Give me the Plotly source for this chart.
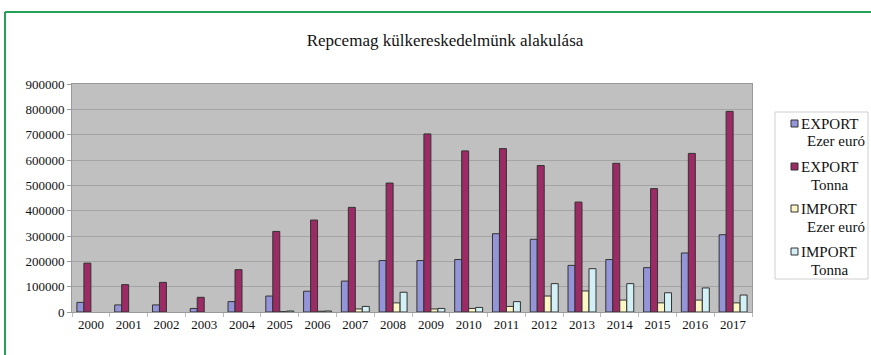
import plotly.graph_objects as go

years = [str(y) for y in range(2000, 2018)]
export_eur = [38000, 28000, 28000, 14000, 41000, 63000, 82000, 122000, 203000,
              203000, 207000, 309000, 287000, 184000, 207000, 175000, 233000, 305000]
export_t = [193000, 108000, 117000, 58000, 167000, 318000, 363000, 413000, 509000,
            703000, 636000, 645000, 578000, 434000, 587000, 487000, 626000, 792000]
import_eur = [None, None, None, None, None, 1500, 3000, 12000, 36000,
              12000, 14000, 22000, 63000, 83000, 47000, 36000, 47000, 36000]
import_t = [None, None, None, None, None, 4000, 4000, 22000, 78000,
            14000, 18000, 41000, 112000, 171000, 112000, 76000, 95000, 67000]

series_line1 = ["EXPORT", "EXPORT", "IMPORT", "IMPORT"]
series_line2 = ["Ezer euró", "Tonna", "Ezer euró", "Tonna"]
series_vals = [export_eur, export_t, import_eur, import_t]
colors = ["#9494d8", "#9c2a64", "#fcf6c4", "#d2f0f6"]

SERIF = "Liberation Serif, Times New Roman, serif"

fig = go.Figure()
for l1, l2, vals, c in zip(series_line1, series_line2, series_vals, colors):
    fig.add_trace(go.Bar(x=years, y=vals, name=f"{l1} {l2}",
                         marker=dict(color=c, line=dict(color="#333333", width=1))))

W, H = 871, 355
L, R, T, B = 72, 119, 84, 43
pw, ph = W - L - R, H - T - B

def px(x):
    return (x - L) / pw

def py(y):
    return (H - B - y) / ph

fig.update_layout(
    width=W, height=H,
    margin=dict(l=L, r=R, t=T, b=B),
    paper_bgcolor="white",
    plot_bgcolor="#c0c0c0",
    barmode="group",
    bargap=0.26,
    bargroupgap=0,
    font=dict(family=SERIF, size=13, color="#111"),
    title=dict(text="Repcemag külkereskedelmünk alakulása",
               x=px(445), xref="paper", xanchor="center",
               y=1 - 40 / H, yanchor="middle",
               font=dict(family=SERIF, size=17, color="#111")),
    showlegend=False,
)
fig.update_yaxes(range=[0, 900000], dtick=100000, tickformat="d",
                 showgrid=True, gridcolor="#a4a4a4", gridwidth=1,
                 ticks="outside", ticklen=4, tickcolor="#999",
                 showline=True, linecolor="#9a9a9a", mirror=True,
                 zeroline=False, fixedrange=True)
fig.update_xaxes(type="category", tickson="boundaries",
                 ticks="outside", ticklen=4, tickcolor="#bbb",
                 showline=True, linecolor="#9a9a9a", mirror=True,
                 showgrid=False)

green = "#23a257"
fig.add_shape(type="line", xref="paper", yref="paper",
              x0=px(5), x1=px(W + 10), y0=py(12), y1=py(12),
              line=dict(color=green, width=2))
fig.add_shape(type="line", xref="paper", yref="paper",
              x0=px(5), x1=px(5), y0=py(12), y1=py(H + 10),
              line=dict(color=green, width=2))

# custom legend (box, swatches, two-line labels)
fig.add_shape(type="rect", xref="paper", yref="paper",
              x0=px(775), x1=px(868), y0=py(112), y1=py(279),
              fillcolor="white", line=dict(color="#cfcfcf", width=1))
line1_y = [124, 167, 209, 252]
line2_y = [141, 185, 227, 270]
line2_x = [805, 809, 805, 809]
for i, c in enumerate(colors):
    fig.add_shape(type="rect", xref="paper", yref="paper",
                  x0=px(791), x1=px(798), y0=py(line1_y[i] - 4), y1=py(line1_y[i] + 3),
                  fillcolor=c, line=dict(color="#333333", width=1))
    fig.add_annotation(xref="paper", yref="paper", x=px(799), y=py(line1_y[i]),
                       xanchor="left", yanchor="middle", showarrow=False,
                       text=series_line1[i],
                       font=dict(family=SERIF, size=15, color="#111"))
    fig.add_annotation(xref="paper", yref="paper", x=px(line2_x[i]), y=py(line2_y[i]),
                       xanchor="left", yanchor="middle", showarrow=False,
                       text=series_line2[i],
                       font=dict(family=SERIF, size=15, color="#111"))

fig.write_html("out.html")
